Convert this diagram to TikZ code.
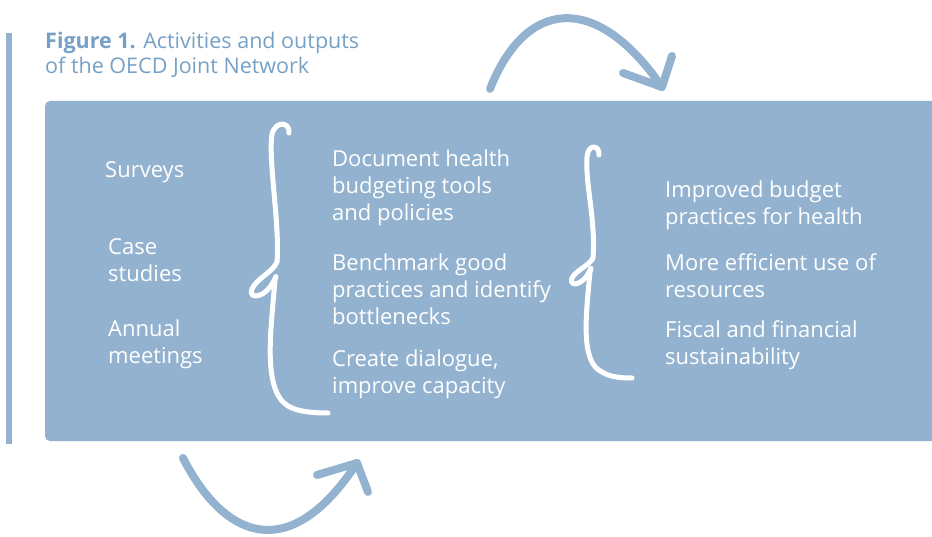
\documentclass[tikz,border=0pt]{standalone}
\usepackage{fontspec}
\setmainfont{Open Sans}
\usepackage{tikz}
\usetikzlibrary{positioning}
\definecolor{oecdblue}{RGB}{146,178,207}
\definecolor{oecdtitle}{RGB}{118,160,198}

\begin{document}
\begin{tikzpicture}[x=1pt, y=-1pt,
    item/.style={anchor=west, inner sep=0pt, align=left, text=white,
                 font=\fontsize{22}{27}\selectfont},
    brace/.style={draw=white, line width=5pt, line cap=round, line join=round},
    bigarr/.style={draw=oecdblue, line width=8pt, line cap=round, line join=round},
    ttl/.style={anchor=north west, inner sep=0pt, align=left, text=oecdtitle,
                font=\fontsize{21.5}{25}\selectfont}]
  \useasboundingbox (0,0) rectangle (932,537);

  %--- Title and side bar ---
  \fill[oecdblue] (6,33) rectangle (12,444);
  \node[ttl] (title) at (45,32)
    {\textbf{Figure 1.} Activities and outputs\\of the OECD Joint Network};

  %--- Main panel ---
  \fill[oecdblue, rounded corners=5pt] (45,101) rectangle (950,441);

  %--- Activities ---
  \node[item] (surv) at (105,172)   {Surveys};
  \node[item] (case) at (108,260.5) {Case\\studies};
  \node[item] (meet) at (108,344.5) {Annual\\meetings};

  %--- Outputs ---
  \node[item] (doc)   at (332,188)   {Document health\\budgeting tools\\and policies};
  \node[item] (bench) at (332,289)   {Benchmark good\\practices and identify\\bottlenecks};
  \node[item] (dial)  at (332,374.5) {Create dialogue,\\improve capacity};

  %--- Outcomes ---
  \node[item] (budg) at (665,205.5) {Improved budget\\practices for health};
  \node[item] (eff)  at (665,275.5) {More efficient use of\\resources};
  \node[item] (fisc) at (665,345.5) {Fiscal and financial\\sustainability};

  %--- Hand-drawn braces ---
  \draw[brace] (289,133) .. controls (290,122) and (276,120) .. (272,134)
    .. controls (268,160) and (280,225) .. (277,262)
    .. controls (273,272) and (256,279) .. (252,289)
    .. controls (248,299) and (262,298) .. (270,287)
    .. controls (276,279) and (277,272) .. (275,280)
    .. controls (271,330) and (262,390) .. (288,406)
    .. controls (298,412) and (314,413) .. (328,413);
  \draw[brace] (599,155) .. controls (600,145) and (588,143) .. (587,157)
    .. controls (585,182) and (596,222) .. (593,258)
    .. controls (589,266) and (576,270) .. (572,278)
    .. controls (569,286) and (579,286) .. (586,277)
    .. controls (591,270) and (592,264) .. (590,272)
    .. controls (586,315) and (580,362) .. (602,372)
    .. controls (610,377) and (620,378) .. (632,378);

  %--- Circular flow arrows ---
  \coordinate (tstart) at (490,89);
  \coordinate (ttip)   at (662,87);
  \draw[bigarr] (tstart) .. controls (525,0) and (595,-10) .. (ttip);
  \draw[bigarr] (623,73) -- (ttip) -- (672,56);

  \coordinate (bstart) at (183,458);
  \coordinate (btip)   at (357,463);
  \draw[bigarr] (bstart) .. controls (225,540) and (290,565) .. (btip);
  \draw[bigarr] (317,475) -- (btip) -- (368,492);
\end{tikzpicture}
\end{document}
